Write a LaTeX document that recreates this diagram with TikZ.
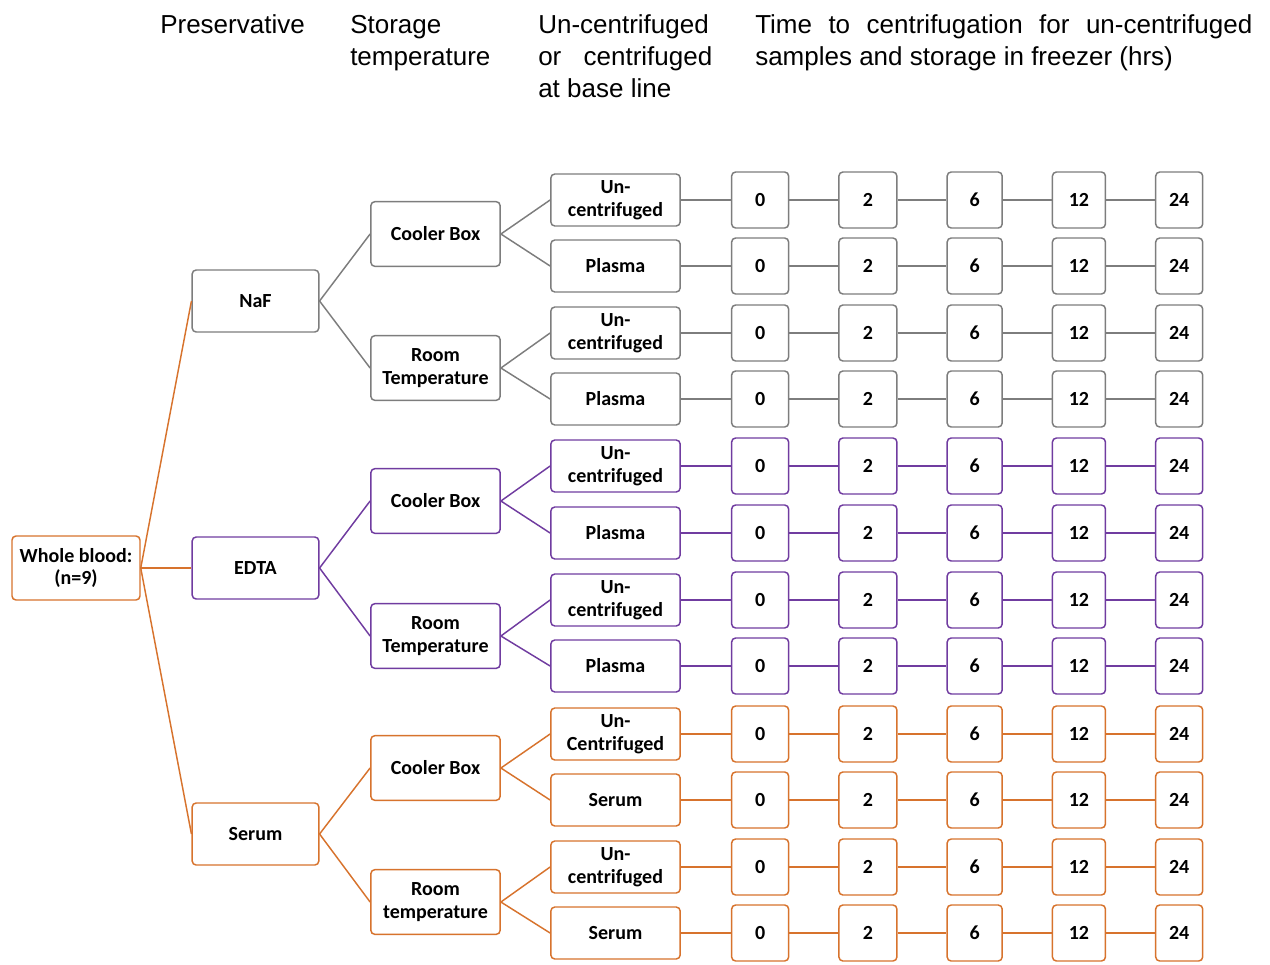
\documentclass[tikz,border=0pt]{standalone}
\usepackage{fontspec}
\setmainfont{Carlito}
\newfontfamily\headfont{Liberation Sans}
\usetikzlibrary{positioning}

\definecolor{nafgray}{RGB}{125,125,125}
\definecolor{edtapurple}{RGB}{112,60,160}
\definecolor{serumorange}{RGB}{215,115,45}

\tikzstyle{box} = [rectangle, rounded corners=3pt, draw, line width=1.1pt, fill=white, text=black, font=\fontsize{15}{17}\selectfont\bfseries, align=center, inner sep=1pt]
\tikzstyle{wbbox} = [box, minimum width=96pt, minimum height=48pt]
\tikzstyle{presbox} = [box, minimum width=95pt, minimum height=46.5pt]
\tikzstyle{tempbox} = [box, minimum width=97pt, minimum height=48.5pt]
\tikzstyle{leafbox} = [box, minimum width=97pt, minimum height=39pt]
\tikzstyle{timebox} = [box, minimum height=42pt]
\tikzstyle{link} = [line width=1.1pt]
\tikzstyle{header} = [font=\headfont\fontsize{19.5}{24.2}\selectfont, inner sep=0pt, anchor=base west, align=justify]

\begin{document}
\begin{tikzpicture}[x=0.75pt, y=-0.75pt, node distance=36.6pt]
                \useasboundingbox (0,0) rectangle (1270,964);

                % Headers
                \node (hpres) [header, text width=120pt] at (160,33) {Preservative};
                \node (htemp) [header, text width=120pt] at (350,33) {Storage\\temperature};
                \node (hbase) [header, text width=130.5pt] at (538,33) {Un-centrifuged\linebreak or centrifuged\linebreak at base line};
                \node (htime) [header, text width=372.75pt] at (755,33) {Time to centrifugation for un-centrifuged\linebreak samples and storage in freezer (hrs)};

                % Nodes
                \node (wb) [wbbox, draw=serumorange] at (76,568) {Whole blood:\\(n=9)};

                \node (naf) [presbox, draw=nafgray] at (255.5,301) {NaF};
                \node (edta) [presbox, draw=edtapurple] at (255.5,568) {EDTA};
                \node (serum) [presbox, draw=serumorange] at (255.5,834) {Serum};

                \node (cb1) [tempbox, draw=nafgray] at (435.5,234) {Cooler Box};
                \node (rt1) [tempbox, draw=nafgray] at (435.5,368) {Room\\Temperature};
                \node (cb2) [tempbox, draw=edtapurple] at (435.5,501) {Cooler Box};
                \node (rt2) [tempbox, draw=edtapurple] at (435.5,636) {Room\\Temperature};
                \node (cb3) [tempbox, draw=serumorange] at (435.5,768) {Cooler Box};
                \node (rt3) [tempbox, draw=serumorange] at (435.5,902) {Room\\temperature};

                \node (l1) [leafbox, draw=nafgray] at (615.5,200) {Un-\\centrifuged};
                \node (l2) [leafbox, draw=nafgray] at (615.5,266) {Plasma};
                \node (l3) [leafbox, draw=nafgray] at (615.5,333) {Un-\\centrifuged};
                \node (l4) [leafbox, draw=nafgray] at (615.5,399) {Plasma};
                \node (l5) [leafbox, draw=edtapurple] at (615.5,466) {Un-\\centrifuged};
                \node (l6) [leafbox, draw=edtapurple] at (615.5,533) {Plasma};
                \node (l7) [leafbox, draw=edtapurple] at (615.5,600) {Un-\\centrifuged};
                \node (l8) [leafbox, draw=edtapurple] at (615.5,666) {Plasma};
                \node (l9) [leafbox, draw=serumorange] at (615.5,734) {Un-\\Centrifuged};
                \node (l10) [leafbox, draw=serumorange] at (615.5,800) {Serum};
                \node (l11) [leafbox, draw=serumorange] at (615.5,867) {Un-\\centrifuged};
                \node (l12) [leafbox, draw=serumorange] at (615.5,933) {Serum};

                % Arrows
                \draw [link, serumorange] (wb.east) -- (naf.west);
                \draw [link, serumorange] (wb.east) -- (edta.west);
                \draw [link, serumorange] (wb.east) -- (serum.west);

                \draw [link, nafgray] (naf.east) -- (cb1.west);
                \draw [link, nafgray] (naf.east) -- (rt1.west);
                \draw [link, edtapurple] (edta.east) -- (cb2.west);
                \draw [link, edtapurple] (edta.east) -- (rt2.west);
                \draw [link, serumorange] (serum.east) -- (cb3.west);
                \draw [link, serumorange] (serum.east) -- (rt3.west);

                \draw [link, nafgray] (cb1.east) -- (l1.west);
                \draw [link, nafgray] (cb1.east) -- (l2.west);
                \draw [link, nafgray] (rt1.east) -- (l3.west);
                \draw [link, nafgray] (rt1.east) -- (l4.west);
                \draw [link, edtapurple] (cb2.east) -- (l5.west);
                \draw [link, edtapurple] (cb2.east) -- (l6.west);
                \draw [link, edtapurple] (rt2.east) -- (l7.west);
                \draw [link, edtapurple] (rt2.east) -- (l8.west);
                \draw [link, serumorange] (cb3.east) -- (l9.west);
                \draw [link, serumorange] (cb3.east) -- (l10.west);
                \draw [link, serumorange] (rt3.east) -- (l11.west);
                \draw [link, serumorange] (rt3.east) -- (l12.west);

                % Time boxes
                \foreach \r/\c in {1/nafgray, 2/nafgray, 3/nafgray, 4/nafgray, 5/edtapurple, 6/edtapurple, 7/edtapurple, 8/edtapurple, 9/serumorange, 10/serumorange, 11/serumorange, 12/serumorange} {
                    \node (t\r c0) [timebox, draw=\c, minimum width=42.75pt, right=37.5pt of l\r] {0};
                    \node (t\r c2) [timebox, draw=\c, minimum width=43.5pt, right=of t\r c0] {2};
                    \node (t\r c6) [timebox, draw=\c, minimum width=41.25pt, right=of t\r c2] {6};
                    \node (t\r c12) [timebox, draw=\c, minimum width=39.75pt, right=of t\r c6] {12};
                    \node (t\r c24) [timebox, draw=\c, minimum width=35.25pt, right=of t\r c12] {24};
                    \draw [link, \c] (l\r) -- (t\r c0) -- (t\r c2) -- (t\r c6) -- (t\r c12) -- (t\r c24);
                }
            \end{tikzpicture}
\end{document}
